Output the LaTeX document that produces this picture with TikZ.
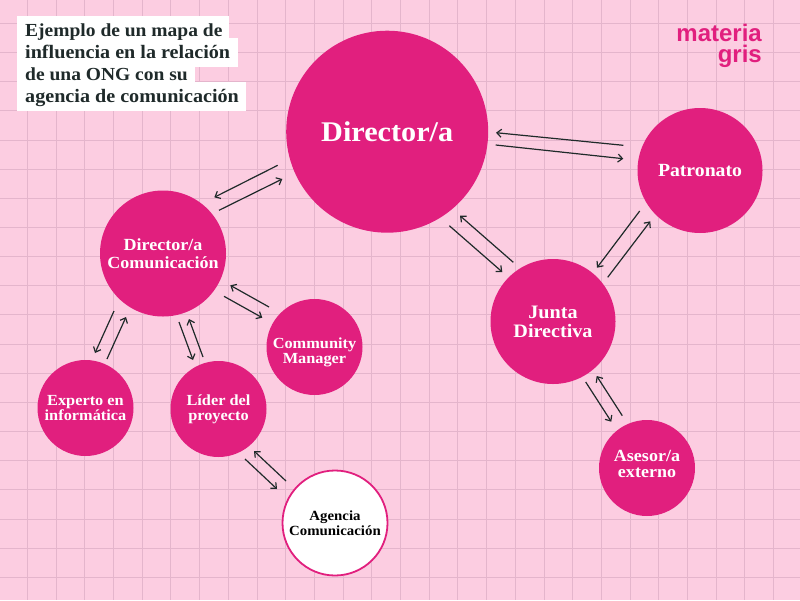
\documentclass[tikz,border=0pt]{standalone}
\usepackage{fontspec}
\setmainfont{Liberation Serif}[BoldFeatures={FakeStretch=1.06}]
\newfontfamily\logofont{Liberation Sans}
\usetikzlibrary{arrows.meta}
\definecolor{bgpink}{HTML}{FCCDE1}
\definecolor{gridpink}{HTML}{E4B5CC}
\definecolor{magentafill}{HTML}{E11F7E}
\definecolor{inkdark}{HTML}{1F2A2A}
\tikzset{
  x=1pt,y=-1pt,
  bubble/.style={circle,fill=magentafill,draw=none,inner sep=0pt,align=center,text=white,font=\bfseries\fontsize{15.4}{14.8}\selectfont},
  whitebubble/.style={bubble,fill=white,draw=magentafill,line width=1.8pt,text=black,font=\bfseries\fontsize{14}{14.5}\selectfont},
  gridline/.style={gridpink,line width=1.3pt},
  arr/.style={draw=inkdark,line width=1.2pt,-{Straight Barb[length=4.5pt,width=8pt]}},
  titleline/.style={anchor=base west,inner sep=0pt,text=inkdark,font=\bfseries\fontsize{19}{24}\selectfont},
  titleshort/.style={titleline,font=\bfseries\fontsize{18.4}{24}\selectfont},
  logotext/.style={anchor=north east,align=right,inner sep=0pt,text=magentafill,font=\logofont\bfseries\fontsize{24}{20.5}\selectfont},
}
\begin{document}
\begin{tikzpicture}
\useasboundingbox (0,0) rectangle (800,600);
\fill[bgpink] (0,0) rectangle (800,600);
\foreach \i in {0,...,26} \draw[gridline] ({round(27+28.7*\i)+0.5},0) -- ({round(27+28.7*\i)+0.5},600);
\foreach \i in {0,...,19} \draw[gridline] (0,{round(23+29.15*\i)+0.5}) -- (800,{round(23+29.15*\i)+0.5});
% title
\fill[white] (17,16) rectangle (229,38);
\fill[white] (17,38) rectangle (238,67);
\fill[white] (17,67) rectangle (195,82);
\fill[white] (17,82) rectangle (246,111);
\node[titleshort] (t1) at (25,36) {Ejemplo de un mapa de};
\node[titleline] (t2) at (25,58) {influencia en la relación};
\node[titleshort] (t3) at (25,80) {de una ONG con su};
\node[titleline] (t4) at (25,102) {agencia de comunicación};
% logo
\node[logotext] (logo) at (762,24) {materia\\gris};
% nodes
\node[bubble,minimum size=202pt,font=\bfseries\fontsize{28.5}{30}\selectfont] (dir) at (387.2,131.7) {Director/a};
\node[bubble,minimum size=125pt,font=\bfseries\fontsize{18.6}{22}\selectfont] (pat) at (700,170.5) {Patronato};
\node[bubble,minimum size=125pt,font=\bfseries\fontsize{19}{19}\selectfont] (jun) at (553,321.5) {Junta\\Directiva};
\node[bubble,minimum size=96pt,font=\bfseries\fontsize{17}{16.5}\selectfont] (ase) at (647,468) {Asesor/a\\externo\rule[-8pt]{0pt}{1pt}};
\node[bubble,minimum size=126pt,font=\bfseries\fontsize{17}{18.5}\selectfont] (com) at (163,253.5) {Director/a\\Comunicación};
\node[bubble,minimum size=96pt] (cm) at (314.5,347) {\rule{0pt}{22pt}Community\\Manager};
\node[bubble,minimum size=96pt] (exp) at (85.5,408) {Experto en\\informática};
\node[bubble,minimum size=96pt] (lid) at (218.5,409) {Líder del\\proyecto};
\node[whitebubble,minimum size=105pt] (age) at (335,523) {Agencia\\Comunicación};
% connectors: end points given as offsets from node centres
\newcommand{\linkarrow}[6]{\draw[arr] ([shift={(#3,#4)}]#1.center) -- ([shift={(#5,#6)}]#2.center);}
\linkarrow{dir}{com}{-109.5}{33.6}{51.3}{-56.2}
\linkarrow{com}{dir}{56}{-43.2}{-104.9}{47.3}
\linkarrow{pat}{dir}{-76.7}{-25.2}{108.8}{1}
\linkarrow{dir}{pat}{108.5}{13.3}{-76.7}{-11.8}
\linkarrow{dir}{jun}{62.1}{94}{-50.7}{-49.5}
\linkarrow{jun}{dir}{-39.7}{-59.2}{72.8}{84}
\linkarrow{pat}{jun}{-60.3}{40.5}{44}{-53.8}
\linkarrow{jun}{pat}{54.7}{-44.2}{-49.7}{50.8}
\linkarrow{ase}{jun}{-24.7}{-52.3}{43.7}{54.5}
\linkarrow{jun}{ase}{32.7}{60.5}{-35.7}{-46.3}
\linkarrow{cm}{com}{-45.5}{-40}{67.3}{31.8}
\linkarrow{com}{cm}{61}{42.8}{-52.2}{-29.3}
\linkarrow{com}{exp}{-49}{57.5}{9.5}{-55}
\linkarrow{exp}{com}{21.5}{-49}{-37}{63.5}
\linkarrow{com}{lid}{16}{68.5}{-25.5}{-49}
\linkarrow{lid}{com}{-15.5}{-52}{26}{65.5}
\linkarrow{lid}{age}{26.5}{50}{-58}{-34}
\linkarrow{age}{lid}{-49}{-42}{35.5}{42}
\end{tikzpicture}
\end{document}
